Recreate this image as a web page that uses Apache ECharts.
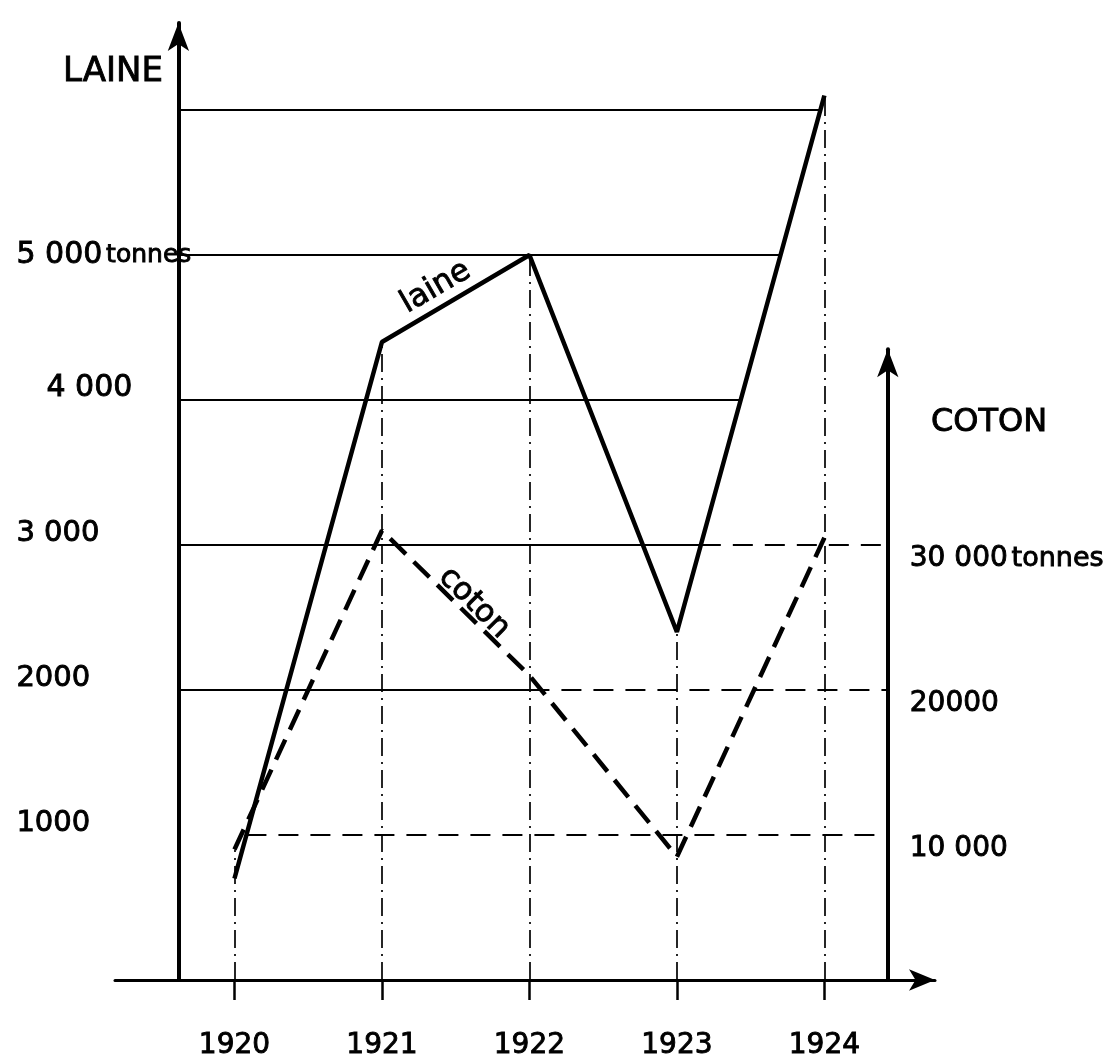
<!DOCTYPE html>
<html><head><meta charset="utf-8">
<script src="https://cdn.jsdelivr.net/npm/echarts@6/dist/echarts.min.js"></script>
<style>html,body{margin:0;padding:0;background:#fff}#c{width:1116px;height:1062px}</style>
</head><body><div id="c"></div>
<script>
// ---- data ----
const years = [1920, 1921, 1922, 1923, 1924];
const laine = [700, 4400, 5000, 2400, 6100];      // tonnes
const coton = [9000, 31000, 21000, 8500, 30500];  // tonnes
const laineTicks = [1000, 2000, 3000, 4000, 5000];
const laineTickLabels = ['1000', '2000', '3 000', '4 000', '5 000 tonnes'];
const cotonTicks = [10000, 20000, 30000];
const cotonTickLabels = ['10 000', '20000', '30 000 tonnes'];
const laineGridLevels = [2000, 3000, 4000, 5000, 6000];
const cotonGridLevels = [10000, 20000, 30000];

// ---- layout ----
const X_MIN = 1919.19, X_MAX = 1924.75;
const PLOT_L = 115, PLOT_R = 935;
const PX_YEAR = (PLOT_R - PLOT_L) / (X_MAX - X_MIN);
const LEFT_AXIS_X = 1919.62, RIGHT_AXIS_X = 1924.43;
const BASE_Y = 980;
const L_MAX = 6600, C_MAX = 43500;
const PX_L = 0.145, PX_C = 0.0145;
const FONT = 'DejaVu Sans';
const INK = { color: '#000', textBorderColor: '#000', textBorderWidth: 0.9 };

function crossings(arr, lv) {
  const xs = [];
  for (let i = 0; i < arr.length - 1; i++) {
    const a = arr[i], b = arr[i + 1];
    if ((a - lv) * (b - lv) <= 0 && a !== b) xs.push(years[i] + (lv - a) / (b - a));
  }
  return xs;
}
function solidEnd(lv) {
  const xs = crossings(laine, lv);
  return Math.max(xs[xs.length - 1], years[2]);
}
const solidStyle = { color: '#000', width: 1.8, type: 'solid' };
const dashDotStyle = { color: '#000', width: 1.7, type: [18, 6, 2, 6] };
const laineGridLines = laineGridLevels.map(lv => [
  { coord: [LEFT_AXIS_X, lv], lineStyle: solidStyle }, { coord: [solidEnd(lv), lv] }
]);
const cotonGridLines = cotonGridLevels.map(lv => {
  const l = lv / 10;
  const start = laineGridLevels.includes(l) ? solidEnd(l) : crossings(laine, l)[0];
  return [{ coord: [start, lv] }, { coord: [RIGHT_AXIS_X, lv] }];
});
const yearLines = years.map((y, i) => [
  { coord: [y, 0], lineStyle: dashDotStyle }, { coord: [y, Math.max(laine[i], coton[i] / 10)] }
]);

const chart = echarts.init(document.getElementById('c'), null, { renderer: 'canvas' });
const lMid = laine[1] + 0.35 * (laine[2] - laine[1]);
const cMid = (coton[1] + coton[2]) / 2;
const T = (size, extra) => Object.assign({ fontFamily: FONT, fontSize: size, fontWeight: 'normal' }, INK, extra || {});

chart.setOption({
  backgroundColor: '#fff',
  animation: false,
  textStyle: { fontFamily: FONT, color: '#000' },
  title: [
    { text: 'LAINE', left: 58, top: 50, textStyle: T(34) },
    { text: 'COTON', left: 926, top: 402, textStyle: T(32) }
  ],
  grid: [
    { left: PLOT_L, right: 1116 - PLOT_R, top: BASE_Y - L_MAX * PX_L, bottom: 1062 - BASE_Y },
    { left: PLOT_L, right: 1116 - PLOT_R, top: BASE_Y - C_MAX * PX_C, bottom: 1062 - BASE_Y }
  ],
  xAxis: [
    {
      type: 'value', gridIndex: 0, min: X_MIN, max: X_MAX,
      axisLine: { lineStyle: { color: '#000', width: 3 }, symbol: ['none', 'arrow'], symbolSize: [16, 26] },
      axisTick: { show: true, customValues: years, length: 20, lineStyle: { color: '#000', width: 2.5 } },
      axisLabel: Object.assign({ customValues: years, margin: 52, formatter: v => String(Math.round(v)) }, T(28)),
      splitLine: { show: false }
    },
    { type: 'value', gridIndex: 1, min: X_MIN, max: X_MAX, show: false }
  ],
  yAxis: [
    {
      type: 'value', gridIndex: 0, min: 0, max: L_MAX, position: 'left',
      offset: -(LEFT_AXIS_X - X_MIN) * PX_YEAR,
      axisLine: { show: true, lineStyle: { color: '#000', width: 4 }, symbol: ['none', 'arrow'], symbolSize: [16, 28] },
      axisTick: { show: false },
      splitLine: { show: false },
      axisLabel: {
        customValues: laineTicks, margin: 162, align: 'left', verticalAlign: 'middle', color: '#000', fontFamily: FONT,
        formatter: v => {
          const i = laineTicks.indexOf(v);
          const s = laineTickLabels[i] || '';
          if (s.indexOf(' tonnes') >= 0) return '{b|' + s.replace(' tonnes', '') + '} {t|tonnes}';
          return (i === 3 ? '{p|' : '{n|') + s + '}';
        },
        rich: {
          n: T(29, { padding: [0, 0, 24, 0] }),
          p: T(30, { padding: [0, 0, 24, 30] }),
          b: T(30),
          t: T(25)
        }
      }
    },
    {
      type: 'value', gridIndex: 1, min: 0, max: C_MAX, position: 'right',
      offset: -(X_MAX - RIGHT_AXIS_X) * PX_YEAR,
      axisLine: { show: true, lineStyle: { color: '#000', width: 4 }, symbol: ['none', 'arrow'], symbolSize: [16, 28] },
      axisTick: { show: false },
      splitLine: { show: false },
      axisLabel: {
        customValues: cotonTicks, margin: 22, align: 'left', verticalAlign: 'top', color: '#000', fontFamily: FONT,
        formatter: v => {
          const s = cotonTickLabels[cotonTicks.indexOf(v)] || '';
          if (s.indexOf(' tonnes') >= 0) return '{n|' + s.replace(' tonnes', '') + '} {t|tonnes}';
          return '{n|' + s + '}';
        },
        rich: { n: T(28), t: T(27) }
      }
    }
  ],
  series: [
    {
      name: 'laine', type: 'line', xAxisIndex: 0, yAxisIndex: 0, clip: false,
      data: years.map((y, i) => [y, laine[i]]),
      showSymbol: false, symbol: 'none',
      lineStyle: { color: '#000', width: 4.5, type: 'solid' },
      z: 5,
      markLine: {
        silent: true, symbol: ['none', 'none'], label: { show: false },
        data: laineGridLines.concat(yearLines),
        lineStyle: { color: '#000', width: 1.8 }
      },
      markPoint: {
        silent: true, symbol: 'circle', symbolSize: 0,
        data: [{ coord: [years[1] + 0.35, lMid], value: 'laine' }],
        label: Object.assign({ show: true, formatter: 'laine', rotate: 30, offset: [14, -20] }, T(31))
      }
    },
    {
      name: 'coton', type: 'line', xAxisIndex: 1, yAxisIndex: 1, clip: false,
      data: years.map((y, i) => [y, coton[i]]),
      showSymbol: false, symbol: 'none',
      lineStyle: { color: '#000', width: 4.5, type: [22, 11] },
      z: 5,
      markLine: {
        silent: true, symbol: ['none', 'none'], label: { show: false },
        data: cotonGridLines,
        lineStyle: { color: '#000', width: 1.8, type: [20, 12] }
      },
      markPoint: {
        silent: true, symbol: 'circle', symbolSize: 0,
        data: [{ coord: [years[1] + 0.5, cMid], value: 'coton' }],
        label: Object.assign({ show: true, formatter: 'coton', rotate: -45, offset: [13, -13] }, T(31))
      }
    }
  ]
});
</script>
</body></html>
